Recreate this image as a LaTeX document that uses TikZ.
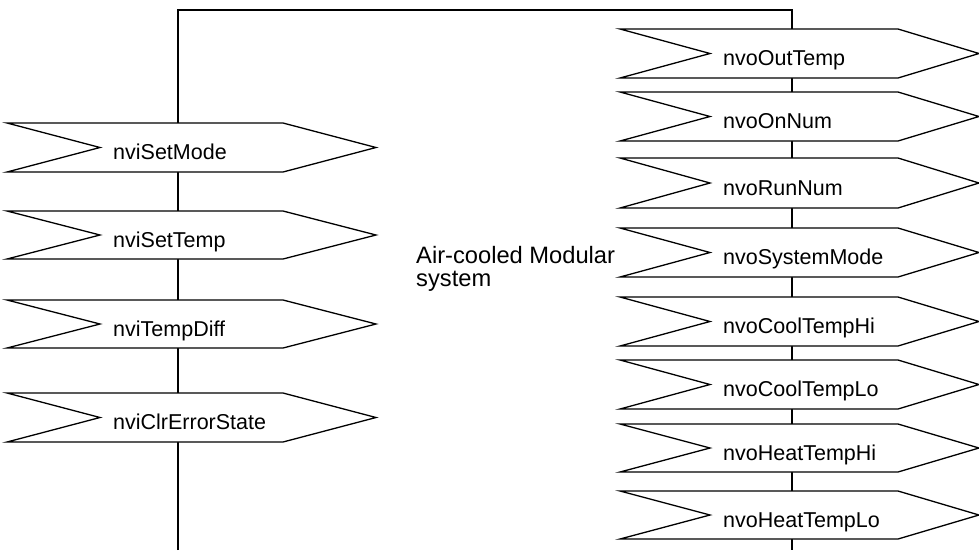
\documentclass[tikz,border=0pt]{standalone}
\usepackage{fontspec}
\setmainfont{Liberation Sans}
\newcommand\sigflag[8]{%
  \draw[flagshape] (#2,#6) -- (#4,#6) -- (#5,{(#6+#7)/2}) -- (#4,#7) -- (#2,#7) -- (#3,{(#6+#7)/2}) -- cycle;
  \node[flaglabel] (#1) at (#3+13,{(#6+#7)/2+12}) {#8};
}
\begin{document}
\begin{tikzpicture}[x=1pt,y=-1pt,
  bus/.style={line width=1.3pt,black},
  flagshape/.style={line width=1.3pt,draw=black,fill=white,line join=miter},
  flaglabel/.style={anchor=base west,inner sep=0pt,font=\fontsize{21.5}{25}\selectfont},
  systext/.style={anchor=north west,inner sep=0pt,align=left,font=\fontsize{23.7}{23}\selectfont}]
\useasboundingbox (0,0) rectangle (979,550);
\fill[white] (0,0) rectangle (979,550);
% bus lines
\coordinate (lb) at (178,550);
\coordinate (lt) at (178,10);
\coordinate (rt) at (792,10);
\coordinate (rb) at (792,550);
\draw[bus] (lb) -- (lt) -- (rt) -- (rb);
% inputs (left)
\sigflag{i1}{7}{100}{283}{376}{123}{172}{nviSetMode}
\sigflag{i2}{7}{100}{283}{376}{211}{259}{nviSetTemp}
\sigflag{i3}{7}{100}{283}{376}{300}{348}{nviTempDiff}
\sigflag{i4}{7}{100}{283}{376}{393}{442}{nviClrErrorState}
% outputs (right)
\sigflag{o1}{620}{710}{898}{979}{29}{78}{nvoOutTemp}
\sigflag{o2}{620}{710}{898}{979}{92}{141}{nvoOnNum}
\sigflag{o3}{620}{710}{898}{979}{158}{208}{nvoRunNum}
\sigflag{o4}{620}{710}{898}{979}{228}{277}{nvoSystemMode}
\sigflag{o5}{620}{710}{898}{979}{297}{346}{nvoCoolTempHi}
\sigflag{o6}{620}{710}{898}{979}{360}{409}{nvoCoolTempLo}
\sigflag{o7}{620}{710}{898}{979}{424}{472}{nvoHeatTempHi}
\sigflag{o8}{620}{710}{898}{979}{491}{539}{nvoHeatTempLo}
% system name
\node[systext] (sys) at (416,246.5) {Air-cooled Modular\\system};
\end{tikzpicture}
\end{document}
